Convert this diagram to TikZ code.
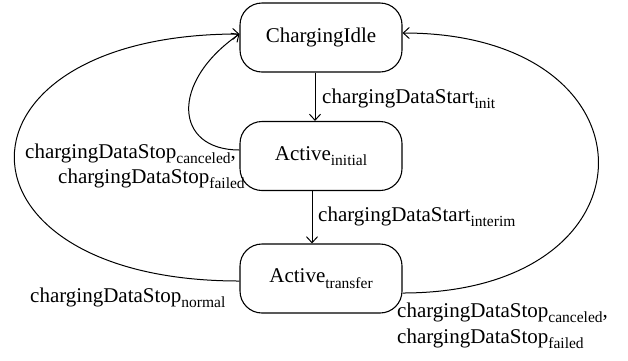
\documentclass[tikz,border=0pt]{standalone}
\usepackage{fontspec}
\setmainfont{Liberation Serif}
\usetikzlibrary{arrows.meta,calc}
% lowered, smaller text for subscripts
\newcommand{\lowtxt}[1]{\raisebox{-5.5pt}{\fontsize{15.5}{16}\selectfont #1}}
\tikzset{
  state/.style={draw, line width=1.1pt, rounded corners=22pt,
    minimum width=162pt, minimum height=69pt, inner sep=0pt},
  arr/.style={line width=1pt, -{Straight Barb[length=6pt,width=11pt,line width=1pt]}},
  lbl/.style={anchor=base west, inner sep=0pt},
}
\begin{document}
\begin{tikzpicture}[x=1pt, y=-1pt, font=\fontsize{21}{25}\selectfont]
\useasboundingbox (0,0) rectangle (628,360);

% states
\node[state] (ChI)  at (321,37.5)  {ChargingIdle};
\node[state] (ActI) at (321,156)   {Active\lowtxt{initial}};
\node[state] (ActT) at (321,278.5) {Active\lowtxt{transfer}};

% forward transitions
\draw[arr] ([xshift=-6pt]ChI.south) -- ([xshift=-6pt]ActI.north);
\draw[arr] ([xshift=-9pt]ActI.south) -- ([xshift=-9pt]ActT.north);

% return transitions to the idle state
\draw[arr] ($(ActI.west)+(0,-6)$) .. controls +(-65,0) and +(-70,48.5) .. ($(ChI.west)+(0,-3.5)$);
\draw[arr] ($(ActT.west)+(0,2.5)$) .. controls +(-300,0) and +(-300,0) .. ($(ChI.west)+(0,-3.5)$);
\draw[arr] ($(ActT.east)+(0,14.5)$) .. controls +(261,0) and +(261,0) .. ($(ChI.east)+(0,-4.5)$);

% transition labels
\node[lbl] (lInit)    at (322,103) {chargingDataStart\lowtxt{init}};
\node[lbl] (lInterim) at (318,221) {chargingDataStart\lowtxt{interim}};
\node[lbl] (lCanA)    at (25,158)  {chargingDataStop\lowtxt{canceled},};
\node[lbl] (lFailA)   at (58,183)  {chargingDataStop\lowtxt{failed}};
\node[lbl] (lNormal)  at (30,302)  {chargingDataStop\lowtxt{normal}};
\node[lbl] (lCanB)    at (397,317) {chargingDataStop\lowtxt{canceled},};
\node[lbl] (lFailB)   at (397,343) {chargingDataStop\lowtxt{failed}};
\end{tikzpicture}
\end{document}
